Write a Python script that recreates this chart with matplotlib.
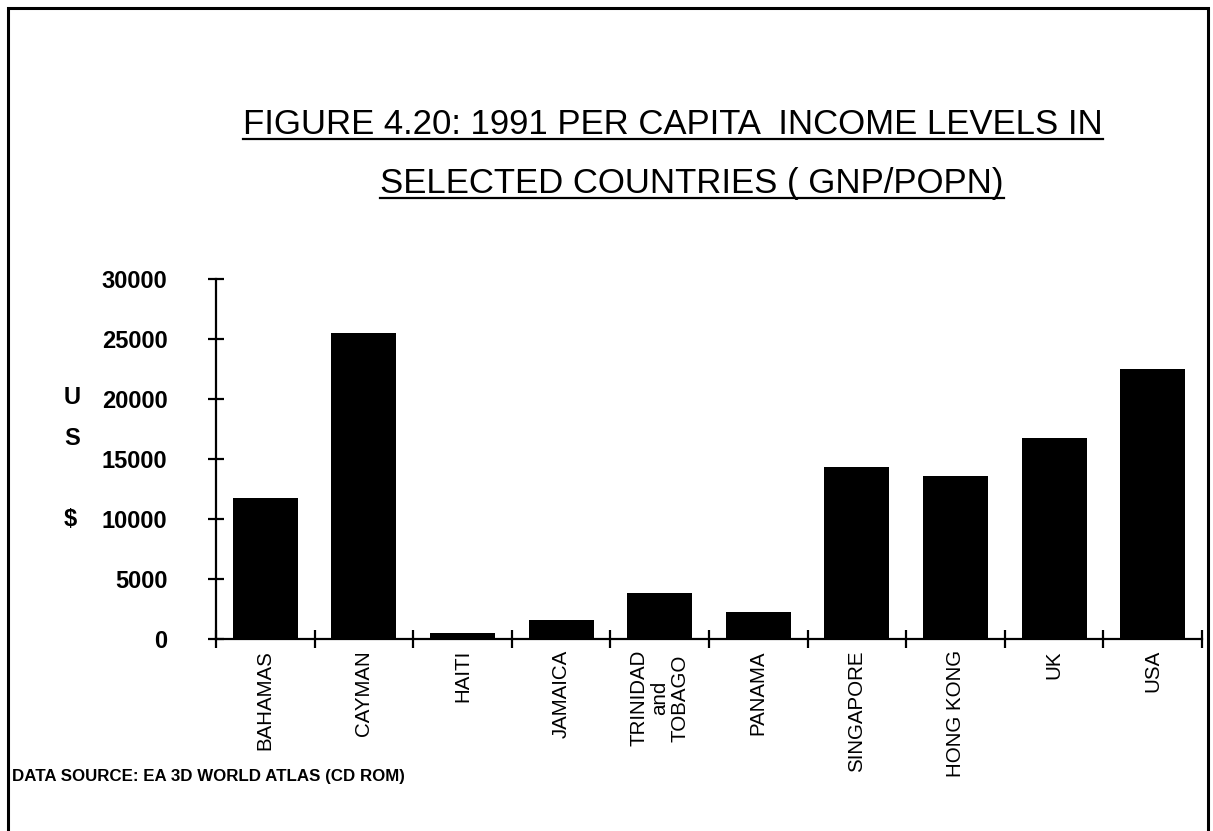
import matplotlib
matplotlib.use('Agg')
import matplotlib.pyplot as plt
from matplotlib.patches import Rectangle
from matplotlib.lines import Line2D
from matplotlib.ticker import FixedLocator

countries = ['BAHAMAS', 'CAYMAN', 'HAITI', 'JAMAICA', 'TRINIDAD\nand\nTOBAGO',
             'PANAMA', 'SINGAPORE', 'HONG KONG', 'UK', 'USA']
income = [11750, 25500, 500, 1600, 3800, 2250, 14300, 13600, 16750, 22500]
yticks = [0, 5000, 10000, 15000, 20000, 25000, 30000]

title1 = 'FIGURE 4.20: 1991 PER CAPITA  INCOME LEVELS IN'
title2 = 'SELECTED COUNTRIES ( GNP/POPN)'
source = 'DATA SOURCE: EA 3D WORLD ATLAS (CD ROM)'

narrow = ['Liberation Sans Narrow', 'Liberation Sans', 'DejaVu Sans']
plain = ['Liberation Sans', 'DejaVu Sans']

W, H = 1213, 831
fig = plt.figure(figsize=(W / 100, H / 100), dpi=100)
fig.patch.set_facecolor('white')

# frame round the page (bottom edge runs off the sheet)
fig.add_artist(Rectangle((8 / W, -0.02), 1200 / W, 1.02 - 8 / H, transform=fig.transFigure,
                         fill=False, edgecolor='black', linewidth=2.2))

ax = fig.add_axes([216 / W, 1 - 639 / H, (1202 - 216) / W, (639 - 279) / H])
x = list(range(len(countries)))
ax.bar(x, income, width=0.66, color='black')
ax.set_xlim(-0.5, len(countries) - 0.5)
ax.set_ylim(0, 30000)

for s in ['top', 'right']:
    ax.spines[s].set_visible(False)
for s in ['left', 'bottom']:
    ax.spines[s].set_linewidth(1.6)

ax.set_yticks(yticks)
ax.set_yticklabels([str(v) for v in yticks], family=plain, fontweight='bold', fontsize=17)
ax.tick_params(axis='y', direction='inout', length=12, width=1.6, pad=29)

# ticks between the bars, names under the bars
ax.xaxis.set_major_locator(FixedLocator([i - 0.5 for i in range(len(countries) + 1)]))
ax.xaxis.set_minor_locator(FixedLocator(x))
ax.set_xticklabels([], minor=False)
ax.set_xticklabels(countries, minor=True, rotation=90, family=narrow, fontsize=14.8,
                   ha='center', va='top', multialignment='center', linespacing=1.1)
ax.tick_params(axis='x', which='major', direction='inout', length=13, width=1.6)
ax.tick_params(axis='x', which='minor', length=0, pad=8)

for ch, ypix in [('U', 397), ('S', 438), ('$', 520)]:
    fig.text(64 / W, 1 - ypix / H, ch, family=plain, fontweight='bold', fontsize=17,
             ha='left', va='center')

t1 = fig.text(673 / W, 1 - 134 / H, title1, family=narrow, fontsize=25,
              ha='center', va='baseline')
t2 = fig.text(692 / W, 1 - 193 / H, title2, family=narrow, fontsize=25,
              ha='center', va='baseline')
fig.text(12 / W, 1 - 776 / H, source, family=plain, fontweight='bold', fontsize=12.2,
         ha='left', va='center')

# underline both title lines
fig.canvas.draw()
renderer = fig.canvas.get_renderer()
for t, ypix in [(t1, 139), (t2, 198)]:
    bb = t.get_window_extent(renderer).transformed(fig.transFigure.inverted())
    fig.add_artist(Line2D([bb.x0, bb.x1], [1 - ypix / H] * 2, transform=fig.transFigure,
                          color='black', linewidth=1.6))

fig.savefig('out.png', dpi=100)
